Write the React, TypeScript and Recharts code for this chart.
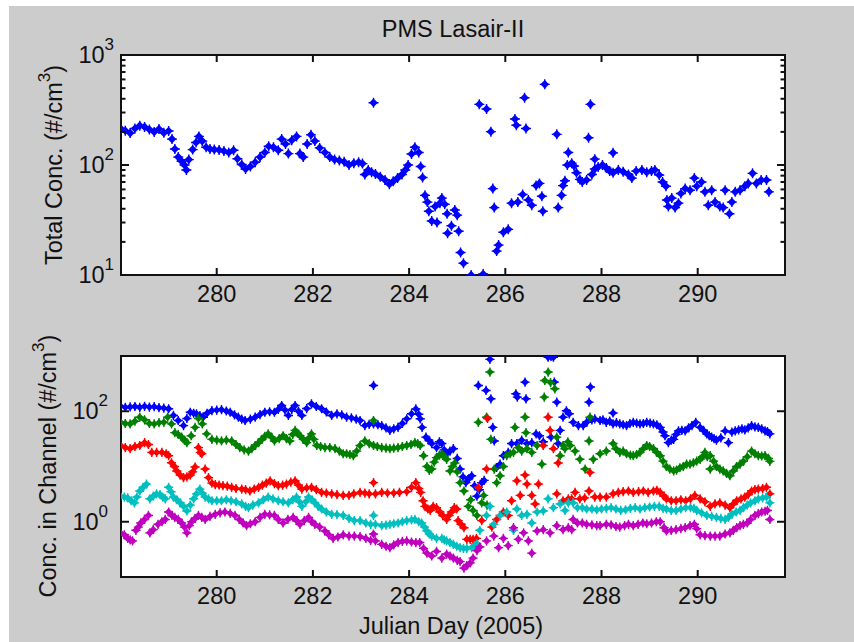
import React from "react";
import { ScatterChart, Scatter, XAxis, YAxis, ReferenceArea } from "recharts";

// ---- data (Julian day, concentration) ----
const DAY_TICKS = [280, 282, 284, 286, 288, 290];
const DAY_RANGE = [278.01, 291.815];

const TOTAL_TICKS = [10, 20, 30, 40, 50, 60, 70, 80, 90, 100, 200, 300, 400, 500, 600, 700, 800, 900, 1000];
const CHANNEL_TICKS = [1, 100];

const totalConc: [number, number][] = [
  [278.0, 215], [278.1, 205], [278.2, 195], [278.3, 215], [278.4, 228], [278.5, 222], [278.6, 210],
  [278.7, 200], [278.8, 212], [278.9, 196], [279.0, 204], [279.07, 172], [279.13, 140], [279.2, 118],
  [279.27, 108], [279.33, 100], [279.37, 90], [279.42, 112], [279.5, 138], [279.57, 160], [279.63, 182],
  [279.7, 165], [279.78, 145], [279.86, 140], [279.95, 138], [280.05, 137], [280.15, 134], [280.25, 130],
  [280.35, 136], [280.43, 114], [280.52, 101], [280.6, 92], [280.7, 97], [280.8, 106], [280.9, 118],
  [281.0, 130], [281.08, 148], [281.18, 145], [281.28, 136], [281.35, 172], [281.43, 155], [281.49, 127],
  [281.56, 168], [281.66, 182], [281.73, 127], [281.8, 118], [281.88, 155], [281.96, 188], [282.04, 165],
  [282.14, 143], [282.25, 130], [282.35, 118], [282.45, 112], [282.55, 110], [282.65, 107], [282.75, 100],
  [282.85, 104], [282.95, 106], [283.03, 103], [283.08, 82], [283.15, 90], [283.22, 86], [283.3, 83],
  [283.4, 78], [283.5, 73], [283.59, 67], [283.67, 71], [283.76, 76], [283.85, 82], [283.92, 90],
  [283.98, 100], [284.05, 126], [284.12, 145], [284.2, 130], [284.24, 97], [284.28, 77], [284.33, 53],
  [284.38, 46], [284.41, 38], [284.47, 31], [284.54, 42], [284.58, 30], [284.64, 45], [284.68, 50],
  [284.74, 44], [284.79, 36], [284.8, 24], [284.88, 28], [284.95, 39], [285.0, 35], [285.03, 25],
  [285.07, 16], [285.13, 12.8], [285.29, 10], [285.54, 10.2], [285.82, 16.5], [285.86, 18.7],
  [285.96, 24.5], [286.06, 26], [286.13, 45], [286.26, 46], [286.36, 54], [286.48, 48], [286.55, 43],
  [286.64, 65], [286.71, 68], [286.76, 52], [286.78, 38], [287.1, 41], [287.17, 53], [287.2, 65],
  [287.24, 72], [287.29, 100], [287.31, 130], [287.38, 104], [287.43, 98], [287.48, 85], [287.55, 74],
  [287.6, 70], [287.69, 73], [287.8, 82], [287.86, 92], [287.93, 96], [288.02, 100], [288.1, 94],
  [288.17, 88], [288.24, 85], [288.35, 90], [288.45, 87], [288.56, 82], [288.63, 76], [288.72, 88],
  [288.84, 90], [288.94, 86], [289.04, 88], [289.11, 90], [289.2, 81], [289.27, 70], [289.34, 64],
  [289.36, 48], [289.39, 42], [289.46, 50], [289.53, 41], [289.6, 45], [289.65, 55], [289.74, 61],
  [289.84, 59], [289.93, 76], [289.98, 64], [290.08, 70], [290.15, 57], [290.22, 43], [290.29, 59],
  [290.36, 46], [290.46, 42], [290.53, 41], [290.57, 59], [290.66, 36], [290.71, 46], [290.78, 57],
  [290.88, 59], [290.98, 64], [291.05, 68], [291.14, 84], [291.22, 68], [291.32, 73], [291.43, 73],
  [291.48, 57],
];
const totalSpikes: [number, number][] = [
  [283.26, 368], [285.46, 356], [285.61, 323], [285.7, 201], [285.74, 61], [285.77, 41], [286.2, 262],
  [286.23, 230], [286.4, 409], [286.43, 215], [286.82, 541], [287.07, 190], [287.73, 177], [287.77, 356],
  [287.86, 113], [288.24, 129],
];

const chBlue: [number, number][] = [
  [278.0, 123], [278.1, 118], [278.2, 120], [278.3, 122], [278.4, 118], [278.5, 123], [278.6, 119],
  [278.7, 121], [278.8, 116], [278.9, 114], [279.0, 111], [279.1, 84], [279.2, 68], [279.31, 55],
  [279.38, 74], [279.45, 96], [279.52, 92], [279.58, 90], [279.65, 83], [279.72, 78], [279.8, 92],
  [279.9, 103], [280.0, 105], [280.1, 107], [280.2, 101], [280.28, 96], [280.37, 86], [280.45, 78],
  [280.52, 72], [280.59, 68], [280.7, 72], [280.8, 78], [280.9, 87], [281.0, 96], [281.1, 98],
  [281.2, 96], [281.28, 108], [281.35, 127], [281.42, 105], [281.49, 84], [281.56, 108], [281.63, 127],
  [281.7, 100], [281.77, 84], [281.87, 112], [281.97, 136], [282.07, 122], [282.18, 111], [282.28, 97],
  [282.39, 84], [282.5, 90], [282.6, 86], [282.7, 78], [282.8, 76], [282.9, 72], [282.98, 68],
  [283.08, 55], [283.17, 58], [283.26, 59], [283.35, 57], [283.43, 55], [283.52, 50], [283.6, 45],
  [283.68, 48], [283.77, 51], [283.86, 60], [283.95, 73], [284.05, 90], [284.14, 110], [284.2, 88],
  [284.23, 73], [284.27, 51], [284.35, 34], [284.41, 30], [284.47, 26], [284.57, 22], [284.63, 28],
  [284.68, 26], [284.73, 20], [284.78, 17], [284.85, 19], [284.92, 21], [285.0, 14], [285.06, 9],
  [285.12, 6.5], [285.18, 5.1], [285.24, 6], [285.3, 6.8], [285.36, 4.5], [285.41, 2.9], [285.46, 3.8],
  [285.51, 5.1], [285.56, 5.6], [285.82, 9.6], [285.89, 11], [285.96, 15.7], [286.06, 18], [286.13, 26],
  [286.24, 26], [286.34, 30], [286.45, 26], [286.55, 27], [286.64, 39], [286.71, 36], [286.79, 28],
  [286.95, 34], [287.1, 26], [287.14, 45], [287.2, 78], [287.27, 102], [287.33, 90], [287.41, 63],
  [287.52, 55], [287.62, 55], [287.69, 63], [287.8, 70], [287.86, 73], [287.97, 68], [288.03, 70],
  [288.1, 63], [288.17, 66], [288.24, 59], [288.31, 62], [288.38, 59], [288.45, 57], [288.52, 55],
  [288.59, 60], [288.66, 63], [288.73, 61], [288.8, 59], [288.87, 60], [288.94, 63], [289.01, 61],
  [289.08, 59], [289.15, 57], [289.22, 51], [289.28, 42], [289.32, 36], [289.39, 27], [289.45, 30],
  [289.5, 31], [289.55, 38], [289.6, 44], [289.67, 45], [289.74, 44], [289.81, 50], [289.88, 55],
  [289.96, 63], [290.05, 51], [290.12, 45], [290.19, 39], [290.24, 36], [290.29, 34], [290.34, 32],
  [290.39, 30], [290.48, 33], [290.57, 44], [290.64, 27], [290.71, 42], [290.78, 44], [290.85, 46],
  [290.92, 48], [290.98, 46], [291.05, 50], [291.12, 55], [291.19, 52], [291.26, 51], [291.33, 48],
  [291.4, 44], [291.45, 43], [291.5, 39],
];
const chBlueSpikes: [number, number][] = [
  [283.26, 293], [285.44, 293], [285.6, 238], [285.68, 870], [285.7, 168], [285.74, 51], [285.77, 29],
  [286.22, 207], [286.25, 180], [286.41, 336], [286.43, 168], [286.89, 950], [286.95, 980], [287.0, 950],
  [287.02, 337], [287.07, 146], [287.74, 146], [287.77, 274], [288.24, 93],
];

const chGreen: [number, number][] = [
  [278.0, 63], [278.1, 60], [278.2, 59], [278.3, 66], [278.4, 78], [278.5, 70], [278.6, 60], [278.7, 59],
  [278.8, 62], [278.9, 63], [278.98, 78], [279.06, 59], [279.13, 41], [279.2, 38], [279.27, 34],
  [279.33, 30], [279.38, 27], [279.47, 36], [279.55, 51], [279.62, 74], [279.7, 59], [279.79, 39],
  [279.9, 31], [280.0, 30], [280.1, 29], [280.2, 30], [280.31, 29], [280.4, 25], [280.48, 22],
  [280.57, 20], [280.66, 19], [280.73, 21], [280.8, 24], [280.87, 27], [280.94, 31], [281.0, 35],
  [281.07, 39], [281.14, 34], [281.2, 29], [281.3, 32], [281.38, 36], [281.45, 32], [281.52, 29],
  [281.58, 38], [281.63, 45], [281.68, 40], [281.73, 36], [281.8, 31], [281.87, 27], [281.92, 33],
  [281.97, 39], [282.02, 31], [282.08, 24], [282.16, 23], [282.25, 22], [282.35, 22], [282.46, 21],
  [282.55, 19], [282.63, 17], [282.7, 17], [282.77, 16.5], [282.84, 15.7], [282.91, 19], [282.98, 24],
  [283.08, 29], [283.17, 26], [283.26, 24], [283.34, 23], [283.43, 22], [283.52, 21.5], [283.6, 21],
  [283.68, 21.5], [283.77, 22], [283.86, 23], [283.95, 24], [284.04, 25], [284.12, 27], [284.18, 26],
  [284.23, 24], [284.3, 15.7], [284.37, 10], [284.42, 8.5], [284.47, 9], [284.52, 12], [284.57, 14.5],
  [284.63, 16], [284.68, 17], [284.73, 15], [284.78, 13.5], [284.85, 8.3], [284.9, 10], [284.95, 11.6],
  [285.0, 8], [285.06, 5.1], [285.14, 3.6], [285.23, 1.9], [285.28, 2.5], [285.33, 1.6], [285.41, 1.3],
  [285.51, 2.2], [285.55, 3.0], [285.62, 2.0], [285.77, 9], [285.82, 5.1], [285.89, 6.8], [285.96, 10],
  [286.03, 15.7], [286.1, 17], [286.17, 18], [286.27, 22], [286.34, 19], [286.45, 21], [286.55, 18],
  [286.66, 24], [286.76, 11], [287.07, 34], [287.14, 15.7], [287.2, 24], [287.24, 21], [287.3, 28],
  [287.35, 24], [287.45, 19], [287.55, 13.5], [287.66, 9], [287.83, 13.5], [287.97, 17], [288.1, 19],
  [288.24, 26], [288.3, 21], [288.38, 18], [288.45, 19], [288.52, 17], [288.6, 16], [288.66, 15.7],
  [288.73, 16.5], [288.8, 18], [288.87, 21], [288.94, 24], [289.0, 23], [289.08, 21], [289.15, 18],
  [289.22, 15.7], [289.28, 12.5], [289.35, 10], [289.42, 9], [289.5, 8.3], [289.56, 8.6], [289.63, 9.5],
  [289.7, 10], [289.77, 11], [289.84, 11], [289.91, 11.6], [289.98, 12.5], [290.05, 13.5], [290.1, 15],
  [290.15, 18], [290.2, 15], [290.26, 15.7], [290.33, 12.5], [290.39, 10], [290.46, 9], [290.53, 8.3],
  [290.6, 7.5], [290.67, 6.8], [290.74, 8.3], [290.81, 10], [290.88, 11], [290.95, 12.4], [291.03, 15],
  [291.12, 19], [291.19, 17], [291.26, 15.7], [291.33, 15.5], [291.4, 15.7], [291.47, 14], [291.5, 12.4],
];
const chGreenSpikes: [number, number][] = [
  [283.26, 68], [285.44, 63], [285.61, 78], [285.68, 512], [285.7, 31], [286.2, 51], [286.41, 78],
  [286.43, 41], [286.81, 180], [286.82, 360], [286.89, 512], [286.94, 330], [287.03, 255], [287.74, 29],
  [287.76, 78], [290.26, 9],
];

const chRed: [number, number][] = [
  [278.0, 24], [278.1, 22], [278.2, 21], [278.3, 23], [278.4, 24], [278.5, 27], [278.58, 25], [278.65, 18],
  [278.75, 18], [278.86, 18], [278.95, 17], [279.0, 15.7], [279.06, 11.7], [279.12, 10], [279.17, 8.3],
  [279.24, 7], [279.31, 6.3], [279.38, 6.5], [279.45, 7], [279.5, 8], [279.55, 9.8], [279.62, 22],
  [279.66, 18], [279.69, 17], [279.76, 9], [279.83, 6.3], [279.9, 5], [279.97, 4.7], [280.05, 4.6],
  [280.13, 4.5], [280.22, 4.4], [280.31, 4.2], [280.4, 4.0], [280.52, 3.9], [280.6, 3.8], [280.69, 3.6],
  [280.78, 3.9], [280.87, 4.2], [280.95, 4.6], [281.03, 5], [281.11, 5.5], [281.2, 4.9], [281.28, 4.5],
  [281.37, 4.6], [281.45, 4.8], [281.54, 5.2], [281.63, 5.5], [281.7, 4.6], [281.77, 3.9], [281.87, 4.1],
  [281.97, 4.2], [282.07, 3.8], [282.18, 3.4], [282.28, 3.3], [282.39, 3.2], [282.5, 3.1], [282.63, 3.0],
  [282.75, 3.0], [282.85, 3.2], [282.98, 3.4], [283.08, 3.3], [283.17, 3.2], [283.3, 3.2], [283.43, 3.4],
  [283.55, 3.3], [283.68, 3.3], [283.8, 3.4], [283.95, 3.5], [284.05, 4.2], [284.14, 5.1], [284.2, 4.0],
  [284.24, 3.4], [284.29, 2.4], [284.33, 1.9], [284.39, 1.7], [284.44, 1.6], [284.5, 1.9], [284.57, 1.8],
  [284.64, 1.5], [284.7, 1.3], [284.78, 1.1], [284.83, 1.3], [284.88, 1.5], [284.94, 1.8], [284.99, 1.7],
  [285.02, 1.05], [285.08, 0.9], [285.14, 0.78], [285.2, 0.48], [285.27, 0.48], [285.33, 0.48],
  [285.4, 0.5], [285.51, 1.05], [285.72, 0.8], [285.82, 1.1], [285.96, 1.5], [286.06, 1.3], [286.13, 2.4],
  [286.24, 5.5], [286.31, 3.0], [286.41, 7], [286.45, 4.8], [286.55, 3.0], [286.62, 2.1], [286.69, 4.8],
  [287.07, 3.2], [287.1, 11.6], [287.2, 2.4], [287.31, 2.6], [287.38, 2.6], [287.45, 3.4], [287.55, 2.6],
  [287.65, 2.7], [287.74, 3.6], [287.86, 2.8], [287.97, 2.8], [288.1, 2.8], [288.24, 3.2], [288.35, 3.4],
  [288.45, 3.5], [288.56, 3.6], [288.66, 3.4], [288.77, 3.5], [288.87, 3.6], [288.97, 3.4], [289.08, 3.6],
  [289.15, 3.7], [289.22, 3.4], [289.3, 2.9], [289.35, 2.6], [289.45, 2.4], [289.55, 2.4], [289.65, 2.5],
  [289.75, 2.4], [289.85, 2.6], [289.94, 3.0], [290.05, 2.6], [290.15, 2.3], [290.26, 1.9], [290.36, 2.1],
  [290.46, 2.2], [290.57, 2.0], [290.67, 1.8], [290.74, 2.1], [290.81, 2.4], [290.9, 2.6], [290.98, 2.8],
  [291.05, 3.1], [291.12, 3.6], [291.19, 3.8], [291.26, 3.9], [291.35, 4.0], [291.43, 4.2], [291.5, 3.2],
];
const chRedSpikes: [number, number][] = [
  [283.26, 5.1], [285.44, 4.2], [285.61, 9], [285.63, 74], [286.79, 24], [286.89, 78], [286.93, 45],
  [287.0, 21], [287.76, 7.8],
];

const chCyan: [number, number][] = [
  [278.0, 2.9], [278.08, 2.8], [278.15, 2.7], [278.22, 2.4], [278.29, 2.2], [278.34, 2.8], [278.4, 3.6],
  [278.47, 4.2], [278.54, 4.8], [278.61, 2.6], [278.68, 2.9], [278.75, 3.2], [278.82, 3.1], [278.88, 2.8],
  [278.93, 2.6], [279.0, 4.2], [279.05, 3.5], [279.1, 2.8], [279.17, 2.5], [279.24, 2.2], [279.31, 1.9],
  [279.38, 1.57], [279.45, 2.0], [279.52, 2.6], [279.58, 3.2], [279.65, 3.9], [279.7, 3.3], [279.76, 2.8],
  [279.83, 2.6], [279.9, 2.4], [280.0, 2.4], [280.1, 2.4], [280.2, 2.5], [280.3, 2.4], [280.4, 2.3],
  [280.52, 2.1], [280.6, 1.9], [280.66, 1.8], [280.75, 2.0], [280.87, 2.2], [280.97, 2.5], [281.07, 2.8],
  [281.17, 2.6], [281.28, 2.4], [281.38, 2.3], [281.49, 2.2], [281.58, 2.5], [281.66, 2.8], [281.72, 2.3],
  [281.77, 1.9], [281.85, 2.3], [281.91, 2.8], [281.98, 2.5], [282.04, 2.2], [282.11, 1.9], [282.18, 1.7],
  [282.28, 1.5], [282.39, 1.36], [282.5, 1.35], [282.63, 1.3], [282.75, 1.15], [282.86, 1.05],
  [282.98, 1.05], [283.1, 0.95], [283.2, 0.9], [283.3, 0.9], [283.43, 0.85], [283.52, 0.87], [283.6, 0.9],
  [283.68, 0.92], [283.77, 0.95], [283.86, 1.0], [283.95, 1.05], [284.05, 1.08], [284.12, 1.1],
  [284.2, 1.0], [284.26, 0.95], [284.32, 0.8], [284.37, 0.68], [284.42, 0.6], [284.47, 0.55], [284.57, 0.5],
  [284.68, 0.5], [284.73, 0.47], [284.78, 0.45], [284.85, 0.42], [284.92, 0.39], [284.99, 0.36],
  [285.06, 0.34], [285.13, 0.33], [285.2, 0.33], [285.3, 0.34], [285.36, 0.37], [285.41, 0.4],
  [285.47, 0.7], [285.61, 1.3], [285.68, 1.9], [285.76, 0.9], [285.89, 1.3], [286.03, 1.5], [286.17, 0.7],
  [286.24, 1.7], [286.34, 1.3], [286.45, 1.36], [286.55, 0.95], [286.66, 1.5], [286.79, 1.57], [286.89, 2.6],
  [287.0, 1.8], [287.14, 2.1], [287.24, 1.6], [287.31, 2.2], [287.41, 2.2], [287.5, 1.8], [287.6, 1.8],
  [287.69, 1.7], [287.8, 1.7], [287.9, 1.65], [288.0, 1.7], [288.1, 1.75], [288.2, 1.8], [288.3, 1.7],
  [288.4, 1.6], [288.5, 1.65], [288.6, 1.75], [288.7, 1.8], [288.8, 1.7], [288.9, 1.8], [289.0, 1.85],
  [289.1, 1.9], [289.2, 1.9], [289.28, 1.75], [289.35, 1.7], [289.45, 1.6], [289.55, 1.6], [289.65, 1.7],
  [289.75, 1.8], [289.85, 1.8], [289.92, 1.75], [289.98, 1.6], [290.08, 1.45], [290.19, 1.3],
  [290.29, 1.25], [290.39, 1.2], [290.48, 1.15], [290.57, 1.1], [290.64, 1.2], [290.71, 1.36], [290.8, 1.5],
  [290.88, 1.6], [290.95, 1.8], [291.03, 2.0], [291.1, 2.2], [291.19, 2.4], [291.26, 2.6], [291.35, 2.7],
  [291.43, 2.8], [291.5, 2.2],
];
const chCyanSpikes: [number, number][] = [[283.26, 1.3]];

const chMagenta: [number, number][] = [
  [278.0, 0.63], [278.08, 0.58], [278.15, 0.5], [278.2, 0.47], [278.25, 0.45], [278.32, 0.7], [278.37, 0.8],
  [278.42, 0.95], [278.5, 1.1], [278.58, 1.3], [278.61, 0.63], [278.68, 0.72], [278.78, 0.9], [278.86, 1.0],
  [278.93, 1.1], [279.0, 1.5], [279.07, 1.3], [279.13, 1.2], [279.2, 1.1], [279.27, 0.95], [279.33, 0.8],
  [279.38, 0.63], [279.43, 0.85], [279.48, 1.0], [279.55, 1.15], [279.62, 1.3], [279.69, 1.2],
  [279.76, 1.1], [279.86, 1.25], [279.97, 1.36], [280.07, 1.45], [280.17, 1.5], [280.28, 1.42],
  [280.38, 1.3], [280.47, 1.1], [280.55, 0.95], [280.62, 0.85], [280.7, 0.92], [280.8, 1.0], [280.9, 1.2],
  [281.0, 1.36], [281.1, 1.33], [281.2, 1.3], [281.28, 1.1], [281.38, 0.95], [281.48, 1.1], [281.59, 1.2],
  [281.66, 1.05], [281.73, 0.9], [281.82, 1.05], [281.91, 1.2], [281.98, 1.0], [282.04, 0.9], [282.14, 0.8],
  [282.25, 0.68], [282.33, 0.58], [282.42, 0.5], [282.52, 0.53], [282.63, 0.58], [282.75, 0.55],
  [282.86, 0.55], [282.98, 0.54], [283.1, 0.5], [283.2, 0.46], [283.3, 0.45], [283.43, 0.39], [283.52, 0.36],
  [283.6, 0.34], [283.68, 0.38], [283.77, 0.42], [283.86, 0.44], [283.95, 0.45], [284.05, 0.43],
  [284.14, 0.42], [284.22, 0.42], [284.3, 0.33], [284.37, 0.27], [284.47, 0.24], [284.57, 0.29],
  [284.68, 0.22], [284.78, 0.26], [284.85, 0.24], [284.92, 0.22], [285.0, 0.2], [285.06, 0.19],
  [285.14, 0.145], [285.2, 0.16], [285.27, 0.18], [285.33, 0.22], [285.41, 0.3], [285.47, 0.35],
  [285.61, 0.45], [285.76, 0.55], [285.86, 0.34], [285.96, 0.5], [286.06, 0.37], [286.17, 0.78],
  [286.27, 0.48], [286.38, 0.63], [286.48, 0.45], [286.55, 0.27], [286.66, 0.68], [286.79, 0.72],
  [286.93, 0.63], [287.07, 0.85], [287.2, 0.72], [287.31, 0.78], [287.38, 0.72], [287.41, 1.1], [287.5, 0.95],
  [287.6, 0.95], [287.69, 0.9], [287.8, 0.88], [287.9, 0.85], [287.97, 0.85], [288.1, 0.9], [288.2, 0.88],
  [288.3, 0.82], [288.38, 0.8], [288.48, 0.85], [288.56, 0.9], [288.66, 0.85], [288.76, 0.9], [288.86, 0.95],
  [288.94, 0.92], [289.04, 0.95], [289.14, 1.0], [289.22, 1.0], [289.3, 0.78], [289.35, 0.68], [289.45, 0.7],
  [289.55, 0.72], [289.65, 0.75], [289.74, 0.78], [289.84, 0.85], [289.93, 0.9], [289.98, 0.75],
  [290.05, 0.58], [290.15, 0.56], [290.26, 0.55], [290.36, 0.55], [290.46, 0.55], [290.57, 0.6],
  [290.67, 0.63], [290.74, 0.7], [290.81, 0.78], [290.88, 0.85], [290.95, 0.9], [291.03, 0.95], [291.1, 1.1],
  [291.19, 1.3], [291.26, 1.4], [291.33, 1.5], [291.4, 1.55], [291.45, 1.6], [291.5, 1.1],
];
const chMagentaSpikes: [number, number][] = [[283.26, 0.6]];

// ---- styling ----
const FONT = '"Liberation Sans", Arial, sans-serif';
const TEXT = "#111";
const AXIS = "#111";

const toPts = (arr: [number, number][]) => arr.map(([x, y]) => ({ x, y }));

// marker: filled diamond with short plus spikes (MATLAB-ish look)
const makeMarker = (r: number) => (props: any) => {
  const { cx, cy, fill } = props;
  if (cx == null || cy == null) return <g />;
  const a = r + 0.7;
  return (
    <g>
      <path d={`M${cx - r},${cy} L${cx},${cy - r} L${cx + r},${cy} L${cx},${cy + r} Z`} fill={fill} />
      <path d={`M${cx - a},${cy} L${cx + a},${cy} M${cx},${cy - a} L${cx},${cy + a}`} stroke={fill} strokeWidth={1.4} />
    </g>
  );
};

const makeXTick = (top: number, bottom: number) => (props: any) => {
  const { x, payload } = props;
  return (
    <g>
      <line x1={x} x2={x} y1={bottom} y2={bottom - 7} stroke={AXIS} strokeWidth={2} />
      <line x1={x} x2={x} y1={top} y2={top + 7} stroke={AXIS} strokeWidth={2} />
      <text x={x} y={bottom + 27} textAnchor="middle" fontFamily={FONT} fontSize={23.5} fill={TEXT}>
        {payload.value}
      </text>
    </g>
  );
};

const makeYTick = (left: number, right: number, labelEnd: number) => (props: any) => {
  const { y, payload } = props;
  const lg = Math.log10(payload.value);
  const major = Math.abs(lg - Math.round(lg)) < 1e-6;
  const len = major ? 8 : 4.5;
  return (
    <g>
      <line x1={left} x2={left + len} y1={y} y2={y} stroke={AXIS} strokeWidth={2} />
      <line x1={right - len} x2={right} y1={y} y2={y} stroke={AXIS} strokeWidth={2} />
      {major && (
        <text x={labelEnd} y={y + 8} textAnchor="end" fontFamily={FONT} fontSize={23.5} fill={TEXT}>
          10
          <tspan dy={-13} fontSize={17}>
            {Math.round(lg)}
          </tspan>
        </text>
      )}
    </g>
  );
};

const W = 854;
const PLOT_L = 121;
const PLOT_R = 785;

export default function App() {
  // axes get width/height 1 (0 would hide their ticks), so margins are one pixel smaller
  const topMargin = { top: 55, right: W - PLOT_R, bottom: 44, left: PLOT_L - 1 };
  const botMargin = { top: 56, right: W - PLOT_R, bottom: 64, left: PLOT_L - 1 };
  const dot = makeMarker(4.3);
  const dotSmall = makeMarker(3.9);

  return (
    <div style={{ position: "absolute", left: 0, top: 0, width: W, height: 642 }}>
      <svg width={W} height={642} style={{ position: "absolute", left: 0, top: 0 }}>
        <rect x={9} y={6} width={W - 9} height={636} fill="#cccccc" />
        <rect x={PLOT_L} y={55} width={PLOT_R - PLOT_L} height={220} fill="#fff" />
        <rect x={PLOT_L} y={356} width={PLOT_R - PLOT_L} height={221} fill="#fff" />
        <text x={453} y={37} textAnchor="middle" fontFamily={FONT} fontSize={23.5} fill={TEXT}>
          PMS Lasair-II
        </text>
        <text x={451} y={634} textAnchor="middle" fontFamily={FONT} fontSize={23.5} fill={TEXT}>
          Julian Day (2005)
        </text>
        <text transform="translate(62,165) rotate(-90)" textAnchor="middle" fontFamily={FONT} fontSize={23.5} fill={TEXT}>
          Total Conc. (#/cm
          <tspan dy={-12} fontSize={17}>3</tspan>
          <tspan dy={12}>)</tspan>
        </text>
        <text transform="translate(56,466) rotate(-90)" textAnchor="middle" fontFamily={FONT} fontSize={23.5} fill={TEXT}>
          Conc. in Channel (#/cm
          <tspan dy={-12} fontSize={17}>3</tspan>
          <tspan dy={12}>)</tspan>
        </text>
      </svg>

      <div style={{ position: "absolute", left: 0, top: 0 }}>
        <ScatterChart width={W} height={320} margin={topMargin}>
          <XAxis
            dataKey="x"
            type="number"
            domain={DAY_RANGE}
            allowDataOverflow
            ticks={DAY_TICKS}
            interval={0}
            height={1}
            axisLine={false}
            tickLine={false}
            tick={makeXTick(55, 275)}
          />
          <YAxis
            dataKey="y"
            type="number"
            scale="log"
            domain={[10, 1000]}
            allowDataOverflow
            ticks={TOTAL_TICKS}
            interval={0}
            width={1}
            axisLine={false}
            tickLine={false}
            tick={makeYTick(PLOT_L, PLOT_R, 114)}
          />
          <Scatter data={toPts([...totalConc, ...totalSpikes])} fill="#0000ff" shape={dot} isAnimationActive={false} />
          <ReferenceArea x1={DAY_RANGE[0]} x2={DAY_RANGE[1]} y1={10} y2={1000} fill="none" stroke={AXIS} strokeWidth={2} />
        </ScatterChart>
      </div>

      <div style={{ position: "absolute", left: 0, top: 300 }}>
        <ScatterChart width={W} height={342} margin={botMargin}>
          <XAxis
            dataKey="x"
            type="number"
            domain={DAY_RANGE}
            allowDataOverflow
            ticks={DAY_TICKS}
            interval={0}
            height={1}
            axisLine={false}
            tickLine={false}
            tick={makeXTick(56, 277)}
          />
          <YAxis
            dataKey="y"
            type="number"
            scale="log"
            domain={[0.1, 1000]}
            allowDataOverflow
            ticks={CHANNEL_TICKS}
            interval={0}
            width={1}
            axisLine={false}
            tickLine={false}
            tick={makeYTick(PLOT_L, PLOT_R, 108)}
          />
          <Scatter data={toPts([...chBlue, ...chBlueSpikes])} fill="#0000ff" shape={dotSmall} isAnimationActive={false} />
          <Scatter data={toPts([...chGreen, ...chGreenSpikes])} fill="#008000" shape={dotSmall} isAnimationActive={false} />
          <Scatter data={toPts([...chRed, ...chRedSpikes])} fill="#ff0000" shape={dotSmall} isAnimationActive={false} />
          <Scatter data={toPts([...chCyan, ...chCyanSpikes])} fill="#00bfbf" shape={dotSmall} isAnimationActive={false} />
          <Scatter data={toPts([...chMagenta, ...chMagentaSpikes])} fill="#bf00bf" shape={dotSmall} isAnimationActive={false} />
          <ReferenceArea x1={DAY_RANGE[0]} x2={DAY_RANGE[1]} y1={0.1} y2={1000} fill="none" stroke={AXIS} strokeWidth={2} />
        </ScatterChart>
      </div>
    </div>
  );
}
